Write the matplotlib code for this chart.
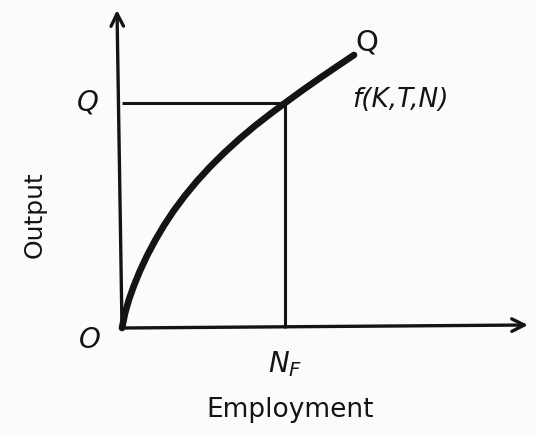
import matplotlib
matplotlib.use("Agg")
import matplotlib.pyplot as plt

# Production function curve (employment, output)
employment = [0, 3, 7, 12, 18, 25, 33, 42, 52, 63, 75, 88, 102, 117, 133, 150, 163, 180, 198, 215, 232]
output = [0, 14.6, 28.6, 42.6, 57.2, 72.2, 87.3, 102.6, 117.7, 132.4, 146.9, 161.1, 175.0, 188.7,
          202.2, 215.4, 225, 237.4, 250, 261.6, 273]

full_employment = 163   # N_F
full_output = 225       # Q
x_axis_end = 406
y_axis_end = 318

ink = "#141414"
fig = plt.figure(figsize=(5.37, 4.34), dpi=100)
fig.patch.set_facecolor("#fbfbf9")
ax = fig.add_axes([0, 0, 1, 1])
ax.set_facecolor("#fbfbf9")
ax.set_xlim(-122, 415)
ax.set_ylim(-106, 328)
ax.axis("off")

# axes with arrows
ax.annotate("", xy=(x_axis_end, 3), xytext=(0, 0),
            arrowprops=dict(arrowstyle="->,head_length=0.9,head_width=0.45", lw=2.4, color=ink,
                            shrinkA=0, shrinkB=0))
ax.annotate("", xy=(-5, y_axis_end), xytext=(0, 0),
            arrowprops=dict(arrowstyle="->,head_length=0.9,head_width=0.45", lw=2.4, color=ink,
                            shrinkA=0, shrinkB=0))

# guide lines
ax.plot([0, full_employment - 4], [full_output, full_output], color=ink, lw=2.2, solid_capstyle="butt")
ax.plot([full_employment, full_employment], [0, full_output], color=ink, lw=2.2, solid_capstyle="butt")

# curve
ax.plot(employment, output, color=ink, lw=4.8, solid_capstyle="round", solid_joinstyle="round")

# labels
ax.text(-32, -12, "O", fontsize=20, style="italic", ha="center", va="center", color=ink)
ax.text(-34, full_output, "Q", fontsize=20, style="italic", ha="center", va="center", color=ink)
ax.text(245, 285, "Q", fontsize=21, ha="center", va="center", color=ink)
ax.text(278, 228, "f(K,T,N)", fontsize=19, style="italic", ha="center", va="center", color=ink)
ax.text(full_employment, -36, "$N_F$", fontsize=20, ha="center", va="center", color=ink)
ax.text(168, -82, "Employment", fontsize=19, ha="center", va="center", color=ink)
ax.text(-87, 113, "Output", fontsize=18, rotation=90, ha="center", va="center", color=ink)

fig.savefig("out.png", dpi=100, facecolor=fig.get_facecolor())
